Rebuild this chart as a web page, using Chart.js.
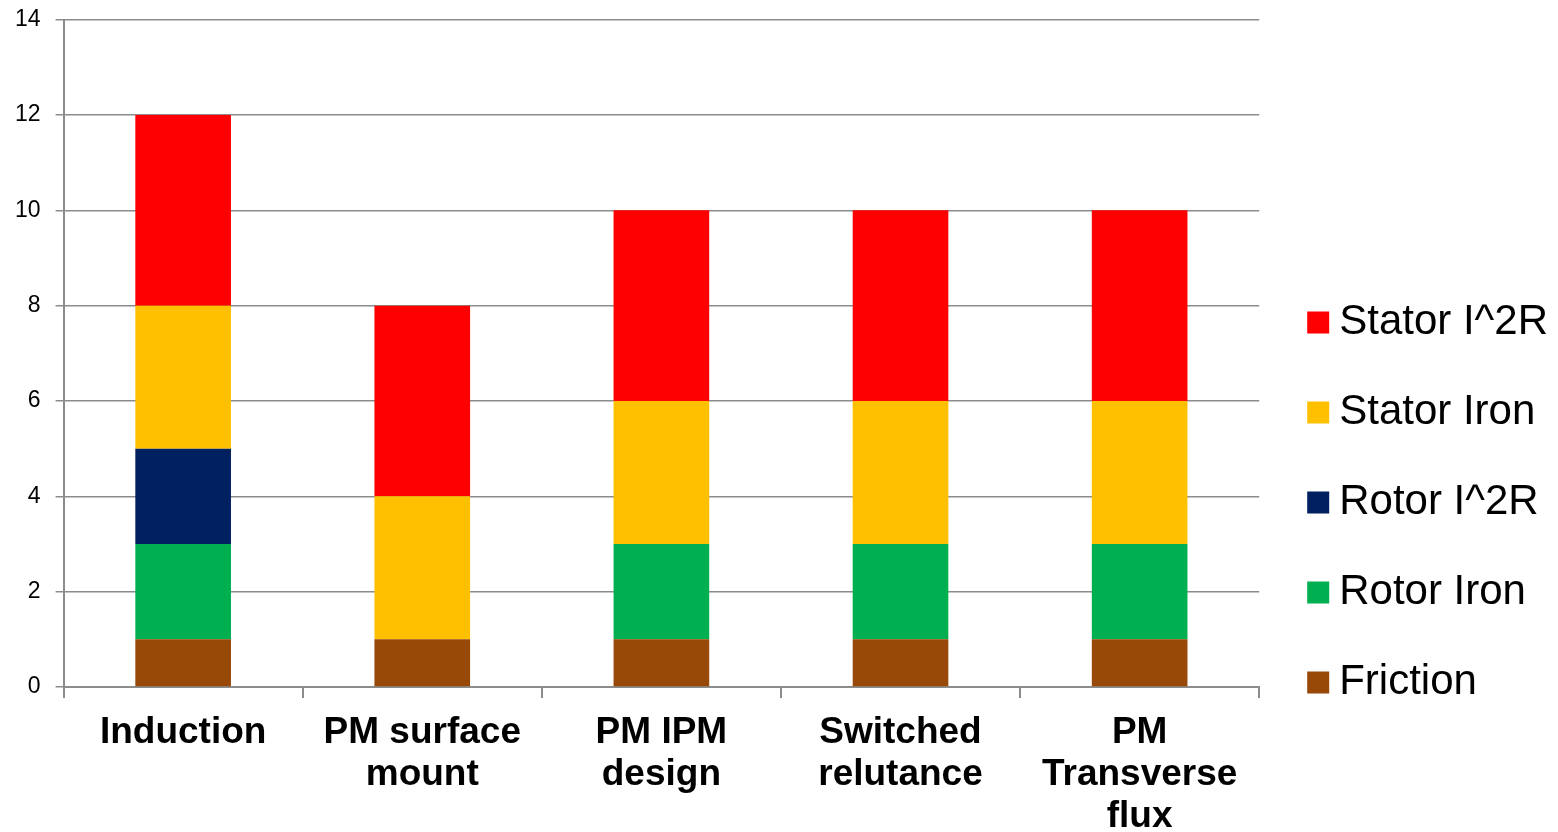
<!DOCTYPE html>
<html>
<head>
<meta charset="utf-8">
<script src="https://cdn.jsdelivr.net/npm/chart.js@4.4.1/dist/chart.umd.min.js"></script>
<style>
  html, body { margin: 0; padding: 0; background: #fff; overflow: hidden; }
  #wrap { width: 1558px; height: 852px; position: relative; }
</style>
</head>
<body>
<div id="wrap"><canvas id="myCanvas"></canvas></div>
<script>
'use strict';

// chart data

const machineTypes = [
  ['Induction'],
  ['PM surface', 'mount'],
  ['PM IPM', 'design'],
  ['Switched', 'relutance'],
  ['PM', 'Transverse', 'flux']
];
const friction = [1, 1, 1, 1, 1];
const rotorIron = [2, 0, 2, 2, 2];
const rotorI2R = [2, 0, 0, 0, 0];
const statorIron = [3, 3, 3, 3, 3];
const statorI2R = [4, 4, 4, 4, 4];
const yTicks = [0, 2, 4, 6, 8, 10, 12, 14];

const fontName = '"Liberation Sans", Arial, sans-serif';
const axisGray = '#8c8c8c';

function makeSet(label, values, color) {
  return {
    label: label,
    data: values,
    backgroundColor: color,
    borderWidth: 0
  };
}

// legend sits a little away from the plot, like the original
const legendGap = {
  id: 'legendGap',
  afterLayout(chart) {
    chart.legend.left += 11;
    chart.legend.right += 11;
  }
};

const data = {
  labels: machineTypes,
  datasets: [
    makeSet('Friction', friction, '#984807'),
    makeSet('Rotor Iron', rotorIron, '#00b050'),
    makeSet('Rotor I^2R', rotorI2R, '#002060'),
    makeSet('Stator Iron', statorIron, '#ffc000'),
    makeSet('Stator I^2R', statorI2R, '#ff0000')
  ]
};

const config = {
  type: 'bar',
  data: data,
  plugins: [legendGap],
  options: {
    responsive: true,
    maintainAspectRatio: false,
    animation: false,
    layout: {
      padding: { top: 0, left: 0, right: 11, bottom: 0 }
    },
    datasets: {
      bar: { barPercentage: 0.8, categoryPercentage: 0.5 }
    },
    plugins: {
      tooltip: { enabled: false },
      legend: {
        position: 'right',
        align: 'start',
        reverse: true,
        title: {
          display: true,
          text: '',
          padding: { top: 0, bottom: 239 }
        },
        labels: {
          usePointStyle: true,
          pointStyle: 'rect',
          boxWidth: 0.01,
          boxHeight: 22,
          padding: 48,
          color: '#000',
          font: { family: fontName, size: 42 }
        }
      }
    },
    scales: {
      x: {
        stacked: true,
        border: { display: true, color: axisGray, width: 2 },
        grid: {
          offset: true,
          drawOnChartArea: false,
          drawTicks: true,
          tickLength: 11,
          color: axisGray,
          lineWidth: 2
        },
        ticks: {
          autoSkip: false,
          maxRotation: 0,
          padding: 14,
          color: '#000',
          font: { family: fontName, size: 37, weight: 'bold', lineHeight: 42 / 37 }
        }
      },
      y: {
        stacked: true,
        min: yTicks[0],
        max: yTicks[yTicks.length - 1],
        border: { display: true, color: axisGray, width: 2 },
        grid: {
          color: axisGray,
          lineWidth: 1.5,
          drawTicks: true,
          tickLength: 8
        },
        afterBuildTicks: function (axis) {
          axis.ticks = yTicks.map(v => ({ value: v }));
        },
        ticks: {
          padding: 15,
          color: '#000',
          font: { family: fontName, size: 23, lineHeight: 0.4 }
        }
      }
    }
  }
};

const chart = document.getElementById('myCanvas');
const myChart = new Chart(chart, config);
</script>
</body>
</html>
